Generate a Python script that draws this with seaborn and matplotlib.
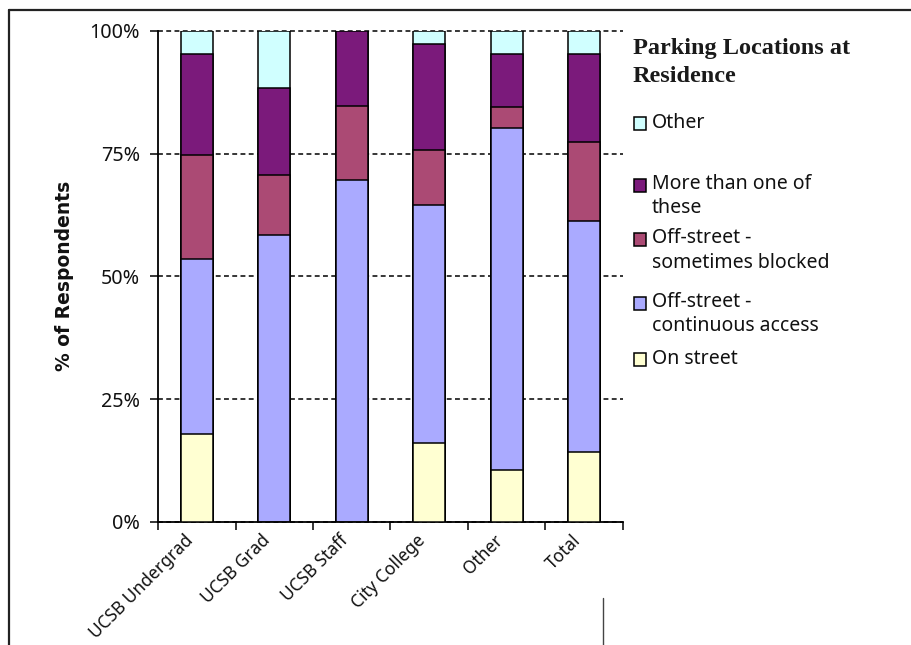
import numpy as np
import matplotlib
matplotlib.use("Agg")
import matplotlib.pyplot as plt
from matplotlib.patches import Rectangle
from matplotlib.lines import Line2D
from matplotlib.ticker import FixedLocator, PercentFormatter
import seaborn as sns

# Respondent groups and share (%) of each parking location
groups = ["UCSB Undergrad", "UCSB Grad", "UCSB Staff", "City College", "Other", "Total"]
on_street = [17.8, 0.0, 0.0, 16.1, 10.5, 14.3]
offstreet_continuous = [35.7, 58.4, 69.6, 48.4, 69.8, 47.0]
offstreet_blocked = [21.2, 12.2, 15.1, 11.2, 4.3, 16.1]
more_than_one = [20.7, 17.7, 15.3, 21.6, 10.8, 18.0]
other = [4.6, 11.7, 0.0, 2.7, 4.6, 4.6]

series_labels = [
    "On street",
    "Off-street -\ncontinuous access",
    "Off-street -\nsometimes blocked",
    "More than one of\nthese",
    "Other",
]
series_colors = ["#FFFFD2", "#AAAAFF", "#AB4A74", "#7B1A7B", "#D0FFFF"]
y_ticks = [0, 25, 50, 75, 100]

sns.set_theme(style="ticks")
plt.rcParams["font.family"] = ["Noto Sans", "DejaVu Sans"]

W, H = 912, 645
fig = plt.figure(figsize=(W / 100, H / 100), dpi=100)
fig.patch.set_facecolor("white")

def fx(px):
    return px / W

def fy(py):
    return 1 - py / H

ax = fig.add_axes([fx(158), fy(521.7), fx(623) - fx(158), fy(31) - fy(521.7)])
ax.set_facecolor("white")

# Stacked bars: draw cumulative totals from the top segment down
stack = np.array([on_street, offstreet_continuous, offstreet_blocked, more_than_one, other])
tops = np.cumsum(stack, axis=0)
for i in reversed(range(len(series_labels))):
    sns.barplot(x=groups, y=tops[i], color=series_colors[i], saturation=1,
                width=0.41, edgecolor="black", linewidth=1.1, ax=ax, zorder=3)

ax.set_xlim(-0.5, len(groups) - 0.5)
ax.set_ylim(0, 100)
ax.yaxis.set_major_locator(FixedLocator(y_ticks))
ax.yaxis.set_major_formatter(PercentFormatter(decimals=0))
ax.yaxis.grid(True, linestyle=(0, (3.2, 2.2)), color="black", linewidth=1.1)
for gl in ax.get_ygridlines():
    gl.set_clip_on(False)
ax.set_axisbelow(True)

for side in ("top", "right"):
    ax.spines[side].set_visible(False)
for side in ("left", "bottom"):
    ax.spines[side].set_color("black")
    ax.spines[side].set_linewidth(1.3)

ax.tick_params(axis="y", length=6, width=1.1, color="black", direction="out",
               labelsize=14.2, labelcolor="#111111", pad=7)
ax.tick_params(axis="x", which="major", length=0, labelsize=12.5,
               labelcolor="#111111", pad=16)
ax.xaxis.set_minor_locator(FixedLocator(np.arange(-0.5, len(groups), 1.0)))
ax.tick_params(axis="x", which="minor", length=6, width=1.1, color="black",
               direction="out")
for lab in ax.get_xticklabels():
    lab.set_rotation(45)
    lab.set_ha("right")
    lab.set_rotation_mode("anchor")
    lab.set_va("bottom")

ax.set_xlabel("")
ax.set_ylabel("% of Respondents", family="DejaVu Sans", fontsize=13.5,
              fontweight="bold", color="#111111", labelpad=11)

# Legend title (va="baseline" pins the last line's baseline)
fig.text(fx(633), fy(82), "Parking Locations at\nResidence", family="Liberation Serif",
         fontweight="bold", fontsize=17.5, color="#1a1a1a", va="baseline", ha="left",
         linespacing=1.44)

# Legend entries, top to bottom in reverse stacking order
line_step = 23.5
entry_baselines = [128, 189.5, 244, 307.5, 363.5]
for (lab, col), yb in zip(zip(series_labels[::-1], series_colors[::-1]), entry_baselines):
    n_lines = lab.count("\n") + 1
    fig.patches.append(Rectangle((fx(634), fy(yb + 2)), fx(12), 13 / H,
                                 transform=fig.transFigure, facecolor=col,
                                 edgecolor="black", linewidth=1.1))
    fig.text(fx(652), fy(yb + (n_lines - 1) * line_step), lab, fontsize=14,
             color="#111111", va="baseline", ha="left", linespacing=1.27)

# Frame lines along the top and left edges, plus the short divider at the bottom
fig.add_artist(Line2D([fx(9), 1], [fy(10), fy(10)], color="#222222", linewidth=1.6,
                      transform=fig.transFigure))
fig.add_artist(Line2D([fx(9), fx(9)], [0, fy(10)], color="#222222", linewidth=1.6,
                      transform=fig.transFigure))
fig.add_artist(Line2D([fx(603), fx(603)], [0, fy(598)], color="#444444", linewidth=1.0,
                      transform=fig.transFigure))

fig.savefig("out.png", dpi=100, facecolor="white")
